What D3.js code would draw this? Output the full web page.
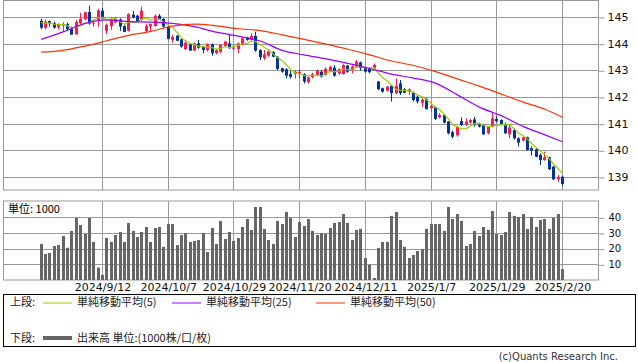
<!DOCTYPE html>
<html>
<head>
<meta charset="utf-8">
<script src="https://cdn.jsdelivr.net/npm/d3@7"></script>
<style>
  html, body { margin: 0; padding: 0; background: #fff; }
  svg { display: block; font-family: "DejaVu Sans", sans-serif; }
  .jp { font-family: "Noto Sans CJK JP", sans-serif; }
</style>
</head>
<body>
<div id="chart"></div>
<script>
// 営業日 (月ごと)
const sessionDays = [
  ['2024/8', [23, 26, 27, 28, 29, 30]],
  ['2024/9', [2, 3, 4, 5, 6, 9, 10, 11, 12, 13, 17, 18, 19, 20, 24, 25, 26, 27, 30]],
  ['2024/10', [1, 2, 3, 4, 7, 8, 9, 10, 11, 15, 16, 17, 18, 21, 22, 23, 24, 25, 28, 29, 30, 31]],
  ['2024/11', [1, 5, 6, 7, 8, 11, 12, 13, 14, 15, 18, 19, 20, 21, 22, 25, 26, 27, 28, 29]],
  ['2024/12', [2, 3, 4, 5, 6, 9, 10, 11, 12, 13, 16, 17, 18, 19, 20, 23, 24, 25, 26, 27, 30]],
  ['2025/1', [6, 7, 8, 9, 10, 14, 15, 16, 17, 20, 21, 22, 23, 24, 27, 28, 29, 30, 31]],
  ['2025/2', [3, 4, 5, 6, 7, 10, 12, 13, 14, 17, 18, 19, 20]]
];
const dates = sessionDays.flatMap(([m, ds]) => ds.map(d => m + '/' + d));

const tickDates = ['2024/9/12', '2024/10/7', '2024/10/29', '2024/11/20', '2024/12/11', '2025/1/7', '2025/1/29', '2025/2/20'];
const priceTicks = [139, 140, 141, 142, 143, 144, 145];
const volTicks = [10, 20, 30, 40];

const opens = [
  144.86, 144.59, 144.85, 144.76, 144.61, 144.70, 144.73, 144.56, 144.35, 144.76,
  144.91, 145.19, 144.77, 144.86, 145.24, 144.48, 144.66, 144.80, 144.91, 144.66,
  144.48, 145.09, 145.05, 144.89, 144.46, 144.64, 144.66, 145.05, 144.93, 144.64,
  144.14, 144.30, 144.16, 143.80, 143.98, 143.74, 144.01, 143.89, 143.76, 143.98,
  143.64, 143.70, 143.91, 144.01, 143.81, 143.80, 143.95, 144.23, 144.14, 144.29,
  143.76, 143.45, 143.55, 143.68, 143.51, 143.08, 143.04, 142.86, 142.86, 142.89,
  142.86, 142.55, 142.74, 142.81, 142.95, 142.83, 142.99, 143.10, 142.89, 142.86,
  143.18, 142.99, 143.14, 143.30, 143.10, 143.08, 143.08, 142.58, 142.33, 142.24,
  142.41, 142.14, 142.51, 142.29, 142.20, 142.16, 142.01, 141.78, 141.93, 141.58,
  141.61, 141.24, 141.33, 141.08, 140.68, 140.57, 141.10, 140.95, 141.05, 141.16,
  141.01, 140.95, 140.64, 140.89, 141.18, 141.14, 140.99, 140.60, 140.76, 140.45,
  140.37, 140.49, 140.08, 140.04, 139.83, 139.64, 139.74, 139.39, 138.91, 139.01
];
const highs = [
  144.93, 144.89, 144.86, 144.81, 144.76, 144.81, 144.79, 144.64, 144.89, 145.16,
  145.19, 145.43, 144.86, 145.31, 145.34, 144.76, 144.95, 145.01, 144.95, 144.69,
  145.14, 145.23, 145.08, 145.39, 144.74, 144.76, 145.09, 145.11, 144.95, 144.66,
  144.33, 144.33, 144.20, 144.08, 144.01, 144.04, 144.14, 143.91, 144.01, 144.01,
  143.79, 143.98, 144.11, 144.33, 143.95, 144.04, 144.24, 144.26, 144.39, 144.45,
  143.79, 143.76, 143.74, 143.73, 143.54, 143.10, 143.08, 142.99, 143.01, 143.04,
  142.89, 142.76, 142.91, 143.04, 143.01, 143.11, 143.16, 143.20, 143.08, 143.23,
  143.20, 143.19, 143.39, 143.33, 143.14, 143.10, 143.26, 142.60, 142.35, 142.41,
  142.45, 142.70, 142.64, 142.33, 142.33, 142.20, 142.08, 141.95, 141.95, 141.70,
  141.64, 141.39, 141.36, 141.10, 140.74, 140.91, 141.24, 141.20, 141.18, 141.26,
  141.04, 140.98, 140.91, 141.41, 141.29, 141.16, 141.04, 140.95, 140.83, 140.49,
  140.51, 140.51, 140.14, 140.08, 139.89, 139.95, 139.76, 139.41, 139.08, 139.04
];
const lows = [
  144.54, 144.54, 144.64, 144.56, 144.54, 144.45, 144.49, 144.33, 144.33, 144.74,
  144.89, 144.71, 144.64, 144.64, 144.93, 144.36, 144.51, 144.76, 144.48, 144.43,
  144.45, 144.95, 144.81, 144.86, 144.44, 144.45, 144.64, 144.89, 144.61, 144.16,
  144.04, 144.09, 143.85, 143.76, 143.73, 143.73, 143.81, 143.64, 143.70, 143.55,
  143.60, 143.64, 143.89, 143.80, 143.76, 143.64, 143.93, 144.11, 144.11, 143.70,
  143.39, 143.39, 143.51, 143.49, 143.01, 142.91, 142.70, 142.69, 142.69, 142.70,
  142.51, 142.51, 142.70, 142.79, 142.73, 142.80, 142.95, 142.76, 142.83, 142.84,
  142.91, 142.89, 143.11, 142.99, 142.91, 142.89, 143.05, 142.26, 142.16, 142.20,
  141.83, 142.11, 142.08, 142.14, 142.08, 141.83, 141.76, 141.63, 141.54, 141.45,
  141.14, 141.20, 141.01, 140.60, 140.45, 140.51, 140.91, 140.91, 141.00, 140.89,
  140.86, 140.58, 140.60, 140.86, 141.04, 140.95, 140.61, 140.45, 140.41, 140.14,
  140.33, 139.99, 139.80, 139.74, 139.45, 139.61, 139.26, 138.89, 138.82, 138.66
];
const closes = [
  144.60, 144.83, 144.76, 144.60, 144.74, 144.72, 144.54, 144.34, 144.81, 144.93,
  145.18, 144.76, 144.79, 145.25, 144.95, 144.71, 144.89, 144.93, 144.64, 144.44,
  145.11, 144.98, 144.85, 145.24, 144.66, 144.73, 145.05, 144.91, 144.64, 144.18,
  144.26, 144.11, 143.89, 144.04, 143.74, 144.01, 143.85, 143.76, 143.99, 143.64,
  143.76, 143.95, 144.08, 143.83, 143.86, 144.01, 144.20, 144.14, 144.29, 143.74,
  143.49, 143.60, 143.70, 143.51, 143.05, 142.95, 142.80, 142.76, 142.95, 142.95,
  142.58, 142.74, 142.86, 142.99, 142.76, 143.06, 143.14, 142.80, 143.04, 143.20,
  142.95, 143.14, 143.33, 143.08, 142.95, 142.93, 143.20, 142.29, 142.20, 142.39,
  142.14, 142.41, 142.14, 142.16, 142.29, 141.89, 141.83, 141.90, 141.54, 141.66,
  141.18, 141.33, 141.04, 140.64, 140.51, 140.89, 140.95, 141.08, 141.14, 140.95,
  140.89, 140.60, 140.89, 141.20, 141.09, 140.99, 140.64, 140.86, 140.45, 140.29,
  140.49, 140.01, 139.99, 139.76, 139.64, 139.74, 139.29, 138.91, 138.99, 138.74
];
// 表示期間より前の終値 (5日線の計算用)
const prevCloses = [144.92, 144.78, 144.85, 144.80];

const volumes = [
  23.0, 16.6, 17.2, 21.7, 22.3, 28.1, 20.6, 31.3, 39.6, 35.1,
  29.4, 39.6, 24.3, 7.9, 3.2, 26.8, 24.3, 28.7, 30.6, 24.3,
  36.4, 31.3, 27.4, 30.6, 33.8, 24.3, 33.2, 33.8, 21.1, 35.7,
  35.7, 22.3, 28.7, 30.0, 24.3, 24.9, 25.5, 30.0, 17.9, 33.2,
  23.0, 37.7, 26.2, 30.6, 24.9, 26.8, 33.8, 38.9, 31.9, 46.6,
  46.6, 32.6, 25.5, 23.0, 37.7, 35.7, 43.4, 39.6, 27.4, 37.0,
  34.5, 38.9, 31.3, 28.7, 30.0, 29.4, 33.2, 36.4, 37.0, 42.1,
  36.4, 25.5, 31.9, 32.6, 14.0, 9.6, 1.3, 20.4, 24.3, 24.3,
  40.9, 43.4, 25.5, 21.1, 14.0, 16.0, 18.5, 19.8, 32.6, 35.7,
  35.7, 35.7, 31.3, 46.6, 38.9, 42.1, 37.7, 21.7, 23.0, 31.3,
  28.1, 33.8, 31.9, 44.0, 29.4, 28.7, 30.6, 43.4, 40.9, 40.2,
  42.1, 32.6, 40.2, 33.8, 38.3, 38.9, 32.6, 39.6, 42.1, 7.0
];

// 25日線・50日線 (5営業日ごとに読み取り、最後は最終日)
const ma25 = [144.16, 144.44, 144.76, 144.89, 144.83, 144.81, 144.76, 144.64, 144.43, 144.28,
  144.10, 143.75, 143.58, 143.43, 143.26, 143.07, 142.86, 142.71, 142.52, 142.08,
  141.62, 141.30, 140.90, 140.58, 140.32];
const ma50 = [143.68, 143.75, 143.91, 144.11, 144.31, 144.46, 144.66, 144.73, 144.67, 144.56,
  144.49, 144.33, 144.16, 143.98, 143.79, 143.58, 143.35, 143.18, 142.95, 142.68,
  142.41, 142.11, 141.81, 141.54, 141.24];

const legendItems = [
  { label: '単純移動平均(5)', color: '#99cc00' },
  { label: '単純移動平均(25)', color: '#9900ff' },
  { label: '単純移動平均(50)', color: '#ff3300' }
];

const W = 638, H = 362;
const left = 3, right = 598;
const priceTop = 0.5, priceBottom = 190;
const volTop = 201, volBottom = 280;
const upColor = '#ff1a4b', downColor = '#0033a0';
const gridColor = '#999';

const svg = d3.select('#chart').append('svg')
  .attr('width', W).attr('height', H);

const x = d3.scalePoint().domain(dates).range([40.7, 562]);
const cx = d => Math.round(x(d));
const yP = d3.scaleLinear().domain([139, 145]).range([177, 17]);
const yV = d3.scaleLinear().domain([0, 40]).range([volBottom, 217.3]);

// 枠とグリッド
function panel(top, bottom, yScale, ticks) {
  const g = svg.append('g');
  g.selectAll('line.h').data(ticks).join('line')
    .attr('x1', left).attr('x2', right)
    .attr('y1', d => Math.round(yScale(d)) + 0.5).attr('y2', d => Math.round(yScale(d)) + 0.5)
    .attr('stroke', gridColor);
  g.selectAll('line.v').data(tickDates).join('line')
    .attr('x1', d => cx(d) + 0.5).attr('x2', d => cx(d) + 0.5)
    .attr('y1', top).attr('y2', bottom)
    .attr('stroke', gridColor);
  g.append('rect')
    .attr('x', left + 0.5).attr('y', top)
    .attr('width', right - left).attr('height', bottom - top)
    .attr('fill', 'none').attr('stroke', gridColor);
  return g;
}
panel(priceTop, priceBottom, yP, priceTicks);
panel(volTop, volBottom, yV, volTicks);

// 右側の目盛り
const pAxis = svg.append('g')
  .attr('transform', `translate(${right + 0.5},0)`)
  .call(d3.axisRight(yP).tickValues(priceTicks).tickSize(6).tickPadding(3).tickFormat(d3.format('d')));
pAxis.select('.domain').remove();
pAxis.selectAll('line').attr('stroke', gridColor).attr('transform', 'translate(0,0.5)');
pAxis.selectAll('text').attr('font-size', 11).attr('font-family', 'DejaVu Sans').attr('fill', '#111');

const vAxis = svg.append('g')
  .attr('transform', `translate(${right + 0.5},0)`)
  .call(d3.axisRight(yV).tickValues(volTicks).tickSize(6).tickPadding(4));
vAxis.select('.domain').remove();
vAxis.selectAll('line').attr('stroke', gridColor).attr('transform', 'translate(0,0.5)');
vAxis.selectAll('text').attr('font-size', 10).attr('font-family', 'DejaVu Sans').attr('fill', '#111');

// 日付ラベル
const xAxis = svg.append('g')
  .attr('transform', `translate(0.5,${volBottom})`)
  .call(d3.axisBottom(x).tickValues(tickDates).tickSize(0).tickPadding(3));
xAxis.select('.domain').remove();
xAxis.selectAll('text').attr('font-size', 11).attr('font-family', 'DejaVu Sans').attr('fill', '#111');

// 出来高
svg.append('g').selectAll('rect').data(dates).join('rect')
  .attr('x', d => cx(d) - 1).attr('width', 3)
  .attr('y', (d, i) => yV(volumes[i]))
  .attr('height', (d, i) => volBottom - yV(volumes[i]))
  .attr('fill', '#666');

svg.append('text').attr('class', 'jp')
  .attr('x', 8).attr('y', 209).attr('dy', '0.35em')
  .attr('font-size', 11).attr('fill', '#000')
  .text('単位: 1000');

// ローソク足
const candles = svg.append('g').selectAll('g').data(dates).join('g')
  .attr('fill', (d, i) => closes[i] >= opens[i] ? upColor : downColor);
candles.append('rect')
  .attr('x', d => cx(d)).attr('width', 1)
  .attr('y', (d, i) => yP(highs[i]))
  .attr('height', (d, i) => yP(lows[i]) - yP(highs[i]));
candles.append('rect')
  .attr('x', d => cx(d) - 1).attr('width', 3)
  .attr('y', (d, i) => yP(Math.max(opens[i], closes[i])))
  .attr('height', (d, i) => Math.max(1, Math.abs(yP(opens[i]) - yP(closes[i]))));

// 移動平均
const allCloses = prevCloses.concat(closes);
const ma5 = closes.map((c, i) => d3.mean(allCloses.slice(i, i + 5)));
const maIdx = d3.range(0, dates.length, 5).concat([dates.length - 1]);

const line = d3.line();
svg.append('path')
  .attr('d', line(ma5.map((v, i) => [x(dates[i]) + 0.5, yP(v)])))
  .attr('fill', 'none').attr('stroke', legendItems[0].color).attr('stroke-width', 1.2);

const smooth = d3.line().curve(d3.curveMonotoneX);
[[ma25, legendItems[1].color], [ma50, legendItems[2].color]].forEach(([vals, color]) => {
  svg.append('path')
    .attr('d', smooth(vals.map((v, k) => [x(dates[maIdx[k]]) + 0.5, yP(v)])))
    .attr('fill', 'none').attr('stroke', color).attr('stroke-width', 1.2);
});

// 凡例
const legend = svg.append('g').attr('class', 'jp').attr('font-size', 11).attr('fill', '#222');
legend.append('rect')
  .attr('x', 3.5).attr('y', 294.5).attr('width', 632).attr('height', 52)
  .attr('fill', 'none').attr('stroke', '#000');

const row1 = 302.5, row2 = 338;
legend.append('text').attr('x', 10).attr('y', row1).attr('dy', '0.35em').text('上段:');
const legendX = [43, 172, 316];
legendItems.forEach((it, k) => {
  legend.append('line')
    .attr('x1', legendX[k]).attr('x2', legendX[k] + 29)
    .attr('y1', 303).attr('y2', 303)
    .attr('stroke', it.color);
  legend.append('text')
    .attr('x', legendX[k] + 34).attr('y', row1).attr('dy', '0.35em')
    .text(it.label);
});
legend.append('text').attr('x', 10).attr('y', row2).attr('dy', '0.35em').text('下段:');
legend.append('line')
  .attr('x1', 43).attr('x2', 72).attr('y1', row2).attr('y2', row2)
  .attr('stroke', '#666').attr('stroke-width', 4);
legend.append('text').attr('x', 77).attr('y', row2).attr('dy', '0.35em')
  .text('出来高 単位:(1000株/口/枚)');

svg.append('text')
  .attr('x', 618).attr('y', 356).attr('dy', '0.35em')
  .attr('text-anchor', 'end').attr('font-size', 10).attr('fill', '#333')
  .text('(c)Quants Research Inc.');
</script>
</body>
</html>
